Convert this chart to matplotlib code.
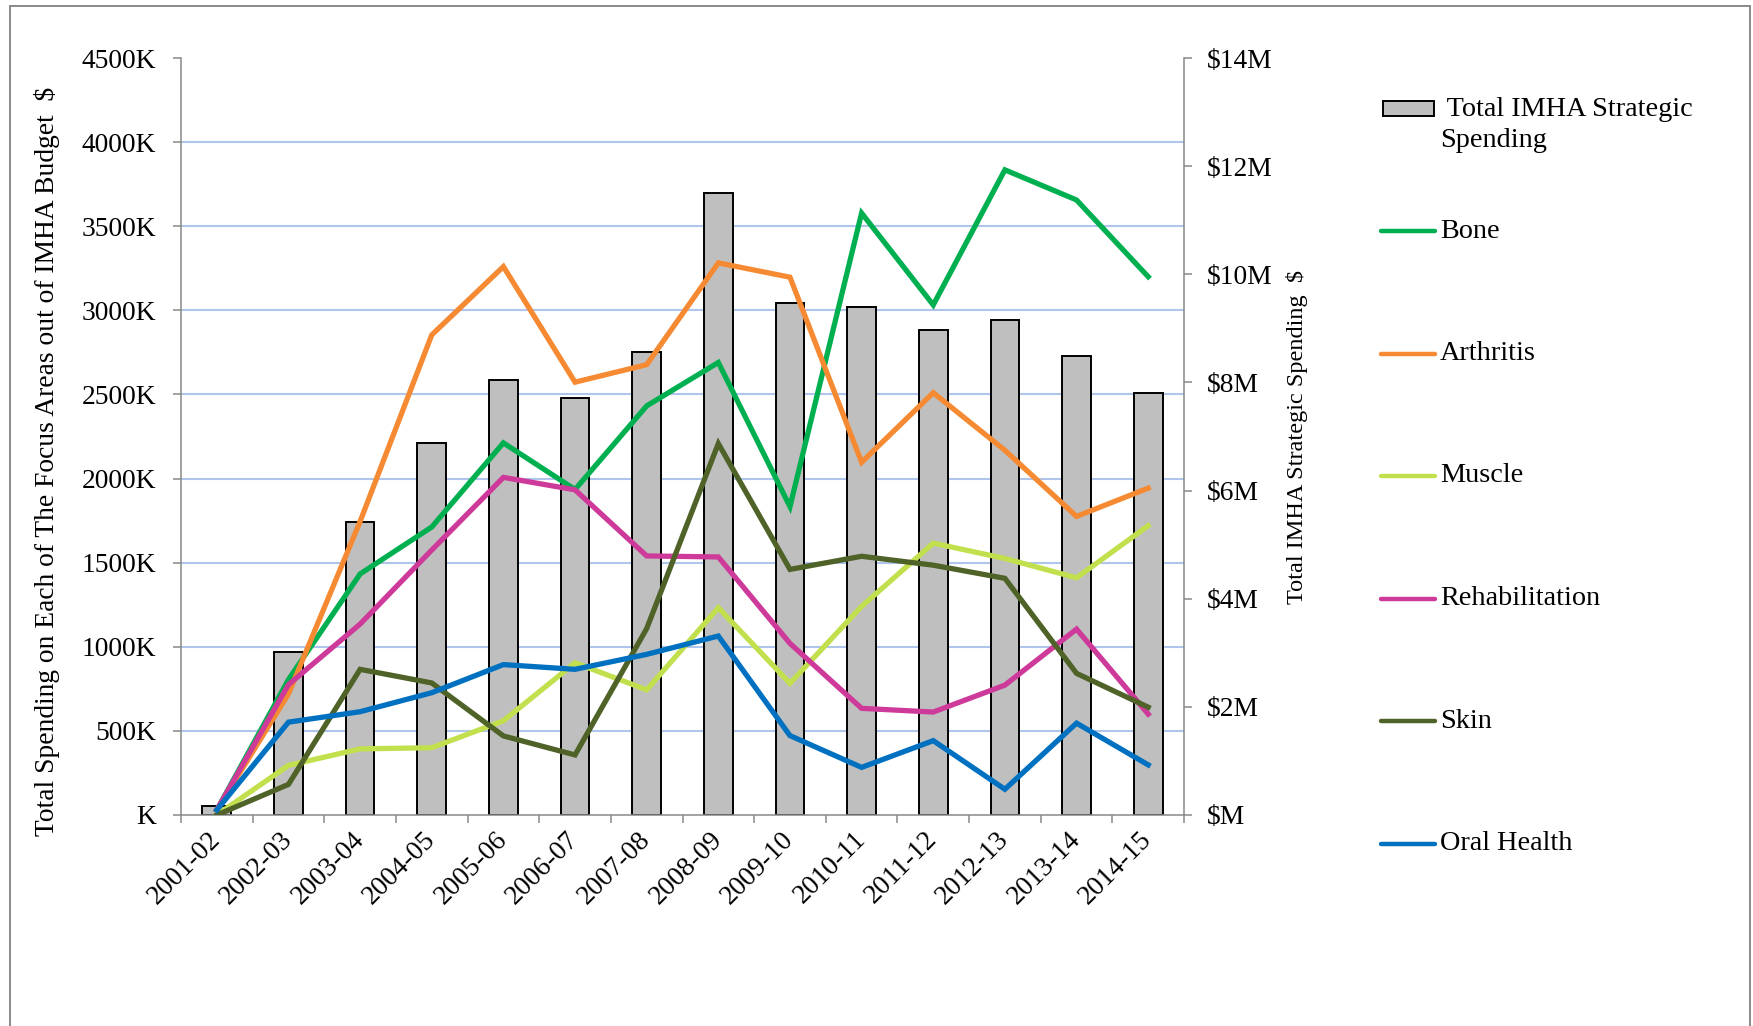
import matplotlib
matplotlib.use("Agg")
import matplotlib.pyplot as plt
from matplotlib.ticker import FuncFormatter, FixedLocator
from matplotlib.patches import Rectangle
from matplotlib.lines import Line2D
import numpy as np

plt.rcParams['font.family'] = ['Liberation Serif', 'DejaVu Serif']

years = ['2001-02', '2002-03', '2003-04', '2004-05', '2005-06', '2006-07', '2007-08',
         '2008-09', '2009-10', '2010-11', '2011-12', '2012-13', '2013-14', '2014-15']
total_spending_M = [0.17, 3.02, 5.42, 6.88, 8.05, 7.71, 8.56, 11.50, 9.47, 9.39, 8.97, 9.16, 8.49, 7.80]

bone = [30, 805, 1433, 1712, 2212, 1935, 2432, 2690, 1833, 3578, 3032, 3835, 3656, 3200]
arthritis = [30, 720, 1745, 2854, 3260, 2573, 2677, 3282, 3197, 2097, 2510, 2168, 1775, 1943]
muscle = [0, 295, 393, 400, 560, 905, 744, 1232, 783, 1240, 1616, 1525, 1410, 1720]
rehabilitation = [30, 775, 1135, 1575, 2007, 1933, 1540, 1534, 1020, 634, 612, 772, 1105, 600]
skin = [0, 182, 866, 785, 470, 357, 1108, 2208, 1460, 1538, 1485, 1407, 842, 641]
oral_health = [30, 552, 614, 727, 894, 866, 955, 1064, 472, 283, 442, 153, 546, 298]

series_names = ['Bone', 'Arthritis', 'Muscle', 'Rehabilitation', 'Skin', 'Oral Health']
series_values = [bone, arthritis, muscle, rehabilitation, skin, oral_health]
series_colors = ['#00B050', '#F58A32', '#C2E04E', '#CD3A9A', '#4F6228', '#0070C0']
bar_label = ' Total IMHA Strategic\nSpending'

W, H = 1753, 1026
fig = plt.figure(figsize=(W / 100, H / 100), dpi=100)
SP = '#898989'
FS = 19.8

ax = fig.add_axes([181 / W, 1 - 815 / H, (1184 - 181) / W, (815 - 58) / H])
ax2 = ax.twinx()
ax.set_zorder(3)
ax.patch.set_visible(False)
ax2.set_zorder(2)

x = np.arange(len(years))

# bars on right axis
ax2.bar(x, total_spending_M, width=0.40, color='#BFBFBF', edgecolor='black', linewidth=1.4, zorder=2)
ax2.set_ylim(0, 14)
ax2.set_yticks(np.arange(0, 15, 2))
ax2.yaxis.set_major_formatter(FuncFormatter(lambda v, p: f'${int(v)}M' if v else '$M'))
ax2.yaxis.set_minor_locator(FixedLocator(np.linspace(0, 14, 10)))
ax2.grid(True, which='minor', axis='y', color='#AFC5EC', linewidth=1.5)
ax2.set_axisbelow(True)
ax2.tick_params(axis='y', which='minor', length=0)
ax2.tick_params(axis='y', which='major', direction='out', length=5.8, width=1.1, color=SP,
                labelsize=FS, pad=10.5)
ax2.set_ylabel('Total IMHA Strategic Spending  $', fontsize=17.5, labelpad=10)

# lines on left axis
for name, vals, col in zip(series_names, series_values, series_colors):
    ax.plot(x, vals, color=col, linewidth=3.8, label=name, solid_joinstyle='miter', zorder=3)

ax.set_ylim(0, 4500)
ax.set_yticks(np.arange(0, 4501, 500))
ax.yaxis.set_major_formatter(FuncFormatter(lambda v, p: f'{int(v)}K' if v else 'K'))
ax.tick_params(axis='y', direction='out', length=5.8, width=1.1, color=SP, labelsize=FS, pad=12)

ax.set_xlim(-0.5, len(years) - 0.5)
ax.set_xticks(x)
ax.set_xticklabels(years, rotation=45, ha='right', va='center', rotation_mode='anchor', fontsize=FS)
ax.set_xticks(np.arange(-0.5, len(years), 1.0), minor=True)
ax.tick_params(axis='x', which='major', length=0, pad=15)
ax.tick_params(axis='x', which='minor', direction='out', length=5.8, width=1.1, color=SP)

for a in (ax, ax2):
    a.spines['top'].set_visible(False)
ax.spines['right'].set_visible(False)
ax2.spines['left'].set_visible(False)
ax2.spines['bottom'].set_visible(False)
ax.spines['left'].set_color(SP)
ax.spines['bottom'].set_color(SP)
ax2.spines['right'].set_color(SP)
for s in ('left', 'bottom'):
    ax.spines[s].set_linewidth(1.1)
ax2.spines['right'].set_linewidth(1.1)

fig.text(47 / W, 1 - 461 / H, 'Total Spending on Each of The Focus Areas out of IMHA Budget  $',
         rotation=90, ha='center', va='center', fontsize=FS)

# manual legend
tf = fig.transFigure
fig.add_artist(Rectangle((1383 / W, 1 - 116 / H), 51 / W, 15 / H, transform=tf,
                         facecolor='#BFBFBF', edgecolor='black', linewidth=1.4))
fig.text(1440 / W, 1 - 125 / H, bar_label, ha='left', va='center', fontsize=FS + 0.5, linespacing=1.3)
leg_y0, leg_dy = 231, 122.5
for i, (name, col) in enumerate(zip(series_names, series_colors)):
    yy = 1 - (leg_y0 + i * leg_dy) / H
    fig.add_artist(Line2D([1381 / W, 1435 / W], [yy, yy], transform=tf, color=col,
                          linewidth=3.2, solid_capstyle='round'))
    fig.text(1440 / W, yy, name, ha='left', va='center', fontsize=FS + 0.5)

# outer border
fig.add_artist(Rectangle((10 / W, -0.02), (1750 - 10) / W, 1.02 - 6 / H, transform=tf,
                         fill=False, edgecolor=SP, linewidth=1.4))

fig.savefig('out.png', dpi=100)
